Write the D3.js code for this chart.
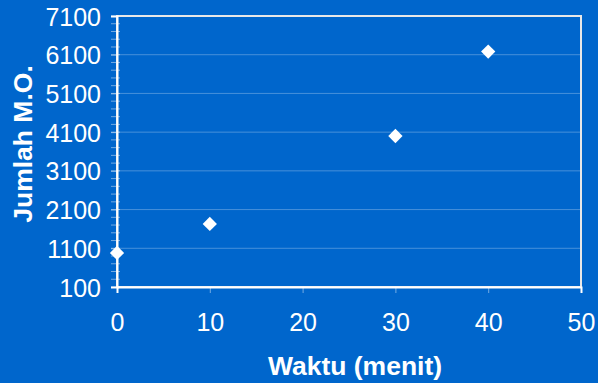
<!DOCTYPE html>
<html>
<head>
<meta charset="utf-8">
<script src="https://cdn.jsdelivr.net/npm/d3@7/dist/d3.min.js"></script>
<style>
  html, body { margin: 0; padding: 0; background: #0066CC; }
  svg { display: block; }
  text { font-family: "Liberation Sans", Arial, sans-serif; fill: #ffffff; }
</style>
</head>
<body>
<svg id="chart" width="598" height="383"></svg>
<script>
// Waktu (menit) vs Jumlah M.O.
const waktu = [0, 10, 30, 40];
const jumlah = [980, 1730, 4000, 6180];
const xTicks = [0, 10, 20, 30, 40, 50];
const yTicks = [100, 1100, 2100, 3100, 4100, 5100, 6100, 7100];
const yMinorTicks = d3.range(100, 7101, 200);

const W = 598, H = 383;
const plot = { left: 117, right: 581, top: 16, bottom: 287 };

const svg = d3.select("#chart");
svg.append("rect").attr("width", W).attr("height", H).attr("fill", "#0066CC");

const x = d3.scaleLinear().domain([0, 50]).range([plot.left, plot.right]);
const y = d3.scaleLinear().domain([100, 7100]).range([plot.bottom, plot.top]);

// horizontal gridlines
svg.append("g")
  .selectAll("line")
  .data(yTicks.slice(1, -1))
  .join("line")
  .attr("x1", plot.left).attr("x2", plot.right)
  .attr("y1", d => y(d)).attr("y2", d => y(d))
  .attr("stroke", "#ffffff").attr("stroke-opacity", 0.28).attr("stroke-width", 1);

// minor ticks on the y axis
svg.append("g")
  .selectAll("line")
  .data(yMinorTicks)
  .join("line")
  .attr("x1", plot.left - 6).attr("x2", plot.left + 3)
  .attr("y1", d => y(d)).attr("y2", d => y(d))
  .attr("stroke", "#ffffff").attr("stroke-opacity", 0.45).attr("stroke-width", 1);

// plot frame
svg.append("rect")
  .attr("x", plot.left).attr("y", plot.top)
  .attr("width", plot.right - plot.left).attr("height", plot.bottom - plot.top)
  .attr("fill", "none").attr("stroke", "#e8e8e8").attr("stroke-width", 2);

// y axis
const yAxis = d3.axisLeft(y).tickValues(yTicks).tickFormat(d3.format("d")).tickSize(6).tickPadding(10);
const gy = svg.append("g").attr("transform", `translate(${plot.left},0)`).call(yAxis);
gy.select(".domain").attr("stroke", "#ffffff").attr("stroke-width", 2);
gy.selectAll(".tick line").attr("stroke", "#ffffff").attr("stroke-opacity", 0.45);
gy.selectAll(".tick text")
  .attr("fill", "#ffffff")
  .style("font-family", "'Liberation Sans', Arial, sans-serif")
  .style("font-size", "25px")
  .attr("dy", "0.36em");

// x axis
const xAxis = d3.axisBottom(x).tickValues(xTicks).tickFormat(d3.format("d")).tickSize(6).tickPadding(20);
const gx = svg.append("g").attr("transform", `translate(0,${plot.bottom})`).call(xAxis);
gx.select(".domain").attr("stroke", "#ffffff").attr("stroke-width", 2);
gx.selectAll(".tick line").attr("stroke", "#ffffff").attr("stroke-opacity", 0.45);
gx.selectAll(".tick text")
  .attr("fill", "#ffffff")
  .style("font-family", "'Liberation Sans', Arial, sans-serif")
  .style("font-size", "25px");

// data points as white diamonds
const diamond = d3.symbol().type(d3.symbolDiamond2).size(130);
svg.append("g")
  .selectAll("path")
  .data(waktu.map((w, i) => [w, jumlah[i]]))
  .join("path")
  .attr("d", diamond)
  .attr("transform", d => `translate(${x(d[0])},${y(d[1])})`)
  .attr("fill", "#ffffff");

// axis titles
svg.append("text")
  .attr("x", 355)
  .attr("y", 375)
  .attr("text-anchor", "middle")
  .style("font-size", "26.5px")
  .style("font-weight", "bold")
  .text("Waktu (menit)");

svg.append("text")
  .attr("transform", `translate(32,144) rotate(-90)`)
  .attr("text-anchor", "middle")
  .style("font-size", "26.5px")
  .style("font-weight", "bold")
  .text("Jumlah M.O.");
</script>
</body>
</html>
